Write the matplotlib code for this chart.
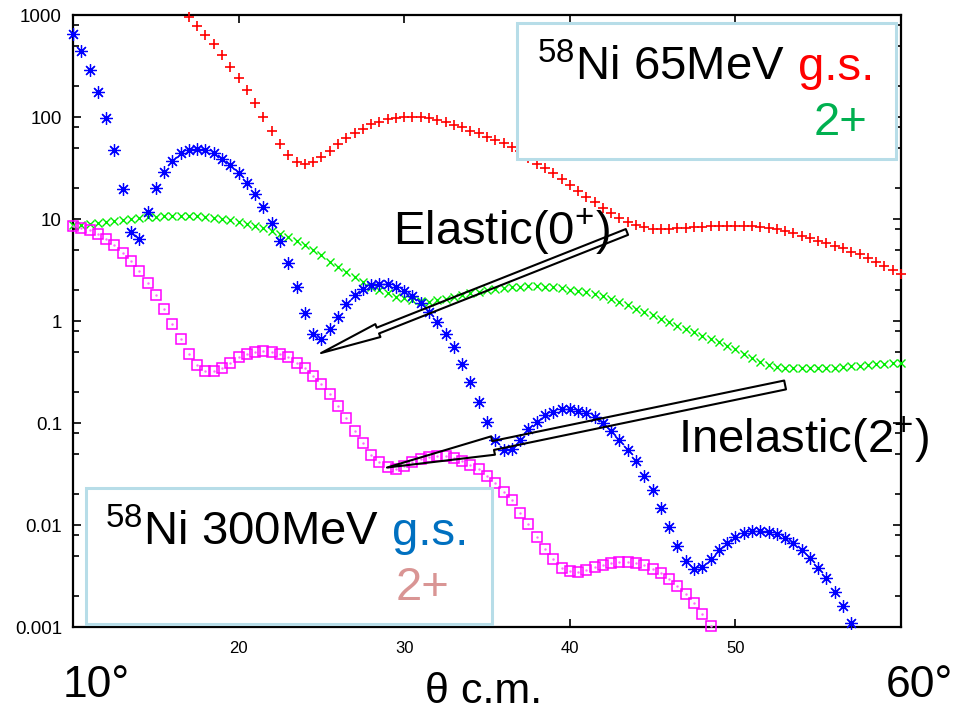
import numpy as np
import matplotlib
matplotlib.use("Agg")
import matplotlib.pyplot as plt
from matplotlib.patches import Rectangle
from matplotlib.ticker import FixedLocator, LogLocator, NullFormatter

plt.rcParams["font.family"] = ["Liberation Sans", "DejaVu Sans"]
plt.rcParams["mathtext.fontset"] = "custom"
plt.rcParams["mathtext.rm"] = "Liberation Sans"
plt.rcParams["mathtext.it"] = "Liberation Sans:italic"
plt.rcParams["mathtext.bf"] = "Liberation Sans:bold"

# Angular grid of the cross sections (degrees, c.m.)
ANGLE_STEP = 0.5

# 58Ni at 65 MeV, elastic (g.s.), from 17.0 deg
ni65_gs_start = 17.0
ni65_gs = [
    960, 780, 641, 516, 405, 311, 243, 184, 136, 99,
    73, 54, 42, 36.5, 34.6, 36.5, 40.8, 46.8, 54, 61.8,
    69, 77, 85, 90, 95, 97, 99, 100, 99, 97,
    93.5, 89, 83.5, 79, 73, 69, 64, 59.5, 56, 51,
    46, 40, 35, 31.4, 28, 24.7, 21.5, 19, 16.6, 14.8,
    12.8, 11.5, 10.3, 9.4, 8.7, 8.3, 8.0, 8.0, 8.0, 8.1,
    8.2, 8.3, 8.4, 8.5, 8.6, 8.6, 8.6, 8.6, 8.5, 8.4,
    8.2, 8.0, 7.6, 7.25, 6.87, 6.57, 6.13, 5.78, 5.47, 5.16,
    4.79, 4.51, 4.18, 3.81, 3.48, 3.16, 2.87,
]

# 58Ni at 65 MeV, inelastic 2+, from 10.0 deg
ni65_2p_start = 10.0
ni65_2p = [
    8.8, 8.8, 8.9, 9.1, 9.3, 9.6, 9.8, 10.0, 10.2, 10.4,
    10.5, 10.7, 10.8, 10.8, 10.8, 10.7, 10.5, 10.3, 10.0, 9.8,
    9.4, 9.0, 8.6, 8.1, 7.6, 7.1, 6.6, 6.1, 5.6, 5.0,
    4.4, 3.8, 3.4, 3.0, 2.7, 2.4, 2.17, 2.01, 1.87, 1.73,
    1.67, 1.61, 1.56, 1.55, 1.60, 1.66, 1.73, 1.80, 1.87, 1.94,
    2.01, 2.06, 2.09, 2.14, 2.17, 2.18, 2.18, 2.17, 2.14, 2.09,
    2.02, 1.97, 1.91, 1.83, 1.74, 1.64, 1.53, 1.42, 1.32, 1.23,
    1.15, 1.05, 0.97, 0.90, 0.84, 0.78, 0.72, 0.67, 0.62, 0.57,
    0.53, 0.47, 0.43, 0.40, 0.37, 0.355, 0.348, 0.345, 0.345, 0.345,
    0.346, 0.348, 0.35, 0.355, 0.36, 0.365, 0.37, 0.375, 0.38, 0.385,
    0.39,
]

# 58Ni at 300 MeV, elastic (g.s.), from 10.0 deg
ni300_gs_start = 10.0
ni300_gs = [
    647, 447, 289, 175, 97, 47, 19.5, 7.5, 6.3, 11.6,
    20, 29, 37, 44, 47.5, 48.5, 47.5, 44, 39, 34,
    28.4, 22.7, 17.6, 13, 9.2, 6.1, 3.7, 2.14, 1.19, 0.75,
    0.66, 0.83, 1.10, 1.47, 1.80, 2.06, 2.25, 2.31, 2.29, 2.17,
    1.98, 1.76, 1.51, 1.23, 0.98, 0.75, 0.55, 0.38, 0.254, 0.162,
    0.102, 0.068, 0.054, 0.056, 0.068, 0.087, 0.103, 0.120, 0.129, 0.136,
    0.136, 0.132, 0.124, 0.115, 0.101, 0.084, 0.068, 0.054, 0.042, 0.030,
    0.022, 0.0146, 0.0095, 0.0062, 0.0044, 0.0037, 0.0039, 0.0046, 0.0057, 0.0067,
    0.0077, 0.0084, 0.0088, 0.0088, 0.0085, 0.0082, 0.0074, 0.0066, 0.0057, 0.0047,
    0.0038, 0.0030, 0.0022, 0.0016, 0.00109,
]

# 58Ni at 300 MeV, inelastic 2+, from 10.0 deg
ni300_2p_start = 10.0
ni300_2p = [
    8.5, 8.1, 7.8, 7.1, 6.3, 5.5, 4.65, 3.9, 3.09, 2.38,
    1.80, 1.31, 0.93, 0.66, 0.47, 0.37, 0.326, 0.326, 0.35, 0.39,
    0.44, 0.47, 0.50, 0.51, 0.50, 0.47, 0.44, 0.39, 0.344, 0.289,
    0.242, 0.191, 0.148, 0.111, 0.0835, 0.063, 0.049, 0.041, 0.0368, 0.0351,
    0.0379, 0.041, 0.0443, 0.0468, 0.0479, 0.0479, 0.045, 0.0424, 0.0387, 0.0351,
    0.0304, 0.0259, 0.0213, 0.0175, 0.0132, 0.0102, 0.0077, 0.0058, 0.0046, 0.0038,
    0.00354, 0.00349, 0.00362, 0.00385, 0.00405, 0.00427, 0.00436, 0.00436, 0.00427, 0.00405,
    0.0037, 0.00336, 0.00294, 0.00252, 0.00211, 0.00171, 0.00134, 0.00103,
]

y_tick_values = [1e-3, 1e-2, 1e-1, 1, 10, 100, 1000]
y_tick_labels = ["0.001", "0.01", "0.1", "1", "10", "100", "1000"]
x_tick_values = [20, 30, 40, 50]


def angles(start, values):
    return start + ANGLE_STEP * np.arange(len(values))


W, H = 956, 714
AX_L, AX_R, AX_T, AX_B = 73, 901, 15, 627

fig = plt.figure(figsize=(W / 100, H / 100), dpi=100)
ax = fig.add_axes([AX_L / W, 1 - AX_B / H, (AX_R - AX_L) / W, (AX_B - AX_T) / H])


def frac(px, py):
    """Pixel position on the canvas -> axes fraction."""
    return (px - AX_L) / (AX_R - AX_L), (AX_B - py) / (AX_B - AX_T)


ax.plot(angles(ni65_gs_start, ni65_gs), ni65_gs, ls="none", marker="+",
        ms=7.5, mew=1.2, color="#ff0000", clip_on=False, zorder=3)
ax.plot(angles(ni65_2p_start, ni65_2p), ni65_2p, ls="none", marker="x",
        ms=5.8, mew=1.0, color="#00ee00", clip_on=False, zorder=3)
ax.plot(angles(ni300_gs_start, ni300_gs), ni300_gs, ls="none", marker=(8, 2, 0),
        ms=9, mew=0.9, color="#0000ff", clip_on=False, zorder=3)
th = angles(ni300_2p_start, ni300_2p)
ax.plot(th, ni300_2p, ls="none", marker="s", ms=7, mfc="none", mec="#ff00ff",
        mew=1.1, clip_on=False, zorder=3)
ax.plot(th, ni300_2p, ls="none", marker=".", ms=1.5, color="#ff66ff",
        clip_on=False, zorder=3)

ax.set_xlim(10, 60)
ax.set_yscale("log")
ax.set_ylim(1e-3, 1e3)
ax.xaxis.set_major_locator(FixedLocator(x_tick_values))
ax.set_xticklabels([str(v) for v in x_tick_values], fontsize=12)
ax.yaxis.set_major_locator(FixedLocator(y_tick_values))
ax.set_yticklabels(y_tick_labels, fontsize=13.5)
ax.yaxis.set_minor_locator(LogLocator(base=10, subs=(2, 5, 8), numticks=20))
ax.yaxis.set_minor_formatter(NullFormatter())
ax.tick_params(which="both", direction="in", top=True, right=True, width=1.2)
ax.tick_params(which="major", length=6)
ax.tick_params(which="minor", length=4)
ax.tick_params(axis="y", pad=8)
ax.tick_params(axis="x", pad=10)
for sp in ax.spines.values():
    sp.set_linewidth(1.6)

# big axis annotations below the frame
big = 32
ax.text(*frac(63, 697), "10°", fontsize=big, ha="left", va="baseline",
        transform=ax.transAxes, clip_on=False)
ax.text(*frac(953, 697), "60°", fontsize=big, ha="right", va="baseline",
        transform=ax.transAxes, clip_on=False)
ax.text(*frac(484, 703), "θ c.m.", fontsize=31, ha="center", va="baseline",
        transform=ax.transAxes, clip_on=False)

# legend boxes
BOX_EDGE = "#b7dde8"
for (x0, y0, x1, y1) in [(517, 23, 896, 159), (86, 488, 492, 624)]:
    fx0, fy1 = frac(x0, y1)
    fx1, fy0 = frac(x1, y0)
    ax.add_patch(Rectangle((fx0, fy1), fx1 - fx0, fy0 - fy1, transform=ax.transAxes,
                           fc="white", ec=BOX_EDGE, lw=2.2, zorder=4, clip_on=False))

lab = 34
t65 = ax.text(*frac(537, 80), r"$^{58}$Ni 65MeV", fontsize=lab, ha="left",
              va="baseline", transform=ax.transAxes, zorder=5)
ax.annotate("g.s.", xy=(1, 0), xycoords=t65, xytext=(9.5, 0),
            textcoords="offset points", fontsize=lab, color="#ff0000",
            ha="left", va="bottom", zorder=5)
ax.text(*frac(868, 135), "2+", fontsize=lab, ha="right", va="baseline",
        color="#00b050", transform=ax.transAxes, zorder=5)

t300 = ax.text(*frac(105, 545), r"$^{58}$Ni 300MeV", fontsize=lab, ha="left",
               va="baseline", transform=ax.transAxes, zorder=5)
ax.annotate("g.s.", xy=(1, 0), xycoords=t300, xytext=(9.5, 0),
            textcoords="offset points", fontsize=lab, color="#0070c0",
            ha="left", va="bottom", zorder=5)
ax.text(*frac(450, 600), "2+", fontsize=lab, ha="right", va="baseline",
        color="#d99594", transform=ax.transAxes, zorder=5)

# hollow block arrows pointing at the elastic and inelastic minima
ax.text(*frac(393, 245), r"Elastic(0$^{+}$)", fontsize=lab, ha="left",
        va="baseline", transform=ax.transAxes, zorder=5)
ax.text(*frac(678, 453), r"Inelastic(2$^{+}$)", fontsize=lab, ha="left",
        va="baseline", transform=ax.transAxes, zorder=5, clip_on=False)

ax.annotate("", xy=(24.98, 0.485), xytext=(43.45, 7.46),
            arrowprops=dict(arrowstyle="simple,head_length=44,head_width=10,tail_width=4.5",
                            mutation_scale=1, fc="none", ec="black", lw=1.5,
                            shrinkA=0, shrinkB=0),
            annotation_clip=False, zorder=6)
ax.annotate("", xy=(28.96, 0.0366), xytext=(53.0, 0.236),
            arrowprops=dict(arrowstyle="simple,head_length=78,head_width=13.5,tail_width=6.5",
                            mutation_scale=1, fc="none", ec="black", lw=1.5,
                            shrinkA=0, shrinkB=0),
            annotation_clip=False, zorder=6)

fig.savefig("out.png", dpi=100)
